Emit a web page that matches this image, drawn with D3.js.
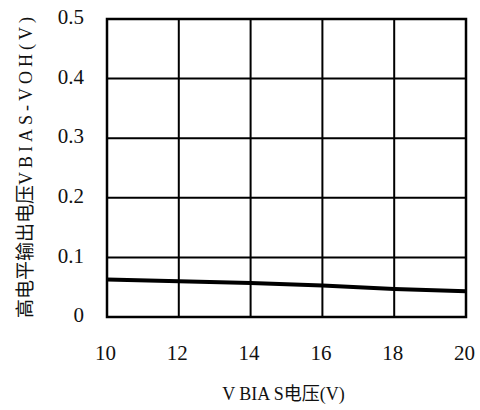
<!DOCTYPE html>
<html>
<head>
<meta charset="utf-8">
<script src="https://cdn.jsdelivr.net/npm/d3@7/dist/d3.min.js"></script>
<style>
  body { margin: 0; background: #fff; }
  svg { display: block; }
  .serif { font-family: "Liberation Serif", "Noto Sans CJK SC", serif; }
</style>
</head>
<body>
<svg id="chart" width="480" height="410"></svg>
<script>
// VBIAS (V) on x, high-level output drop VBIAS-VOH (V) on y
var vbias = [10, 12, 14, 16, 18, 20];
var voh = [0.063, 0.060, 0.057, 0.053, 0.047, 0.043];
var xTicks = [10, 12, 14, 16, 18, 20];
var yTicks = [0, 0.1, 0.2, 0.3, 0.4, 0.5];
var xTitle = "V BIA S电压(V)";
var yTitleCn = "高电平输出电压";
var yTitleEn = "VBIAS-VOH(V)";

var svg = d3.select("#chart"),
  margin = { top: 19, right: 14, bottom: 93, left: 107 },
  width = +svg.attr("width") - margin.left - margin.right,
  height = +svg.attr("height") - margin.top - margin.bottom,
  g = svg.append("g")
    .attr("transform", "translate(" + margin.left + "," + margin.top + ")");

var x = d3.scaleLinear().domain([10, 20]).range([0, width]);
var y = d3.scaleLinear().domain([0, 0.5]).range([height, 0]);

// grid
g.append("g")
  .selectAll("line")
  .data(xTicks)
  .enter()
  .append("line")
  .attr("x1", function(d) { return x(d); })
  .attr("x2", function(d) { return x(d); })
  .attr("y1", 0)
  .attr("y2", height)
  .attr("stroke", "#000")
  .attr("stroke-width", 2);

g.append("g")
  .selectAll("line")
  .data(yTicks)
  .enter()
  .append("line")
  .attr("x1", 0)
  .attr("x2", width)
  .attr("y1", function(d) { return y(d); })
  .attr("y2", function(d) { return y(d); })
  .attr("stroke", "#000")
  .attr("stroke-width", 2);

g.append("rect")
  .attr("width", width)
  .attr("height", height)
  .attr("fill", "none")
  .attr("stroke", "#000")
  .attr("stroke-width", 2.5);

// tick labels
var xAxis = g.append("g")
  .attr("transform", "translate(0," + height + ")")
  .call(d3.axisBottom(x).tickValues(xTicks).tickSize(0).tickPadding(0).tickFormat(d3.format("d")));
xAxis.attr("font-family", null).attr("font-size", null);
xAxis.select(".domain").remove();
xAxis.selectAll("text")
  .attr("class", "serif")
  .attr("x", -2)
  .attr("y", 43)
  .attr("dy", 0)
  .style("font-size", "21px")
  .attr("fill", "#111");

var yAxis = g.append("g")
  .call(d3.axisLeft(y).tickValues(yTicks).tickSize(0).tickPadding(0)
    .tickFormat(function(d) { return d === 0 ? "0" : d3.format(".1f")(d); }));
yAxis.attr("font-family", null).attr("font-size", null);
yAxis.select(".domain").remove();
yAxis.selectAll("text")
  .attr("class", "serif")
  .attr("x", -23)
  .attr("dy", "0.22em")
  .style("font-size", "21px")
  .attr("fill", "#111");

// data line
var line = d3.line()
  .x(function(d, i) { return x(vbias[i]); })
  .y(function(d) { return y(d); });

g.append("path")
  .datum(voh)
  .attr("fill", "none")
  .attr("stroke", "#000")
  .attr("stroke-width", 4)
  .attr("d", line);

// axis titles
svg.append("text")
  .attr("class", "serif")
  .attr("x", margin.left + width / 2 - 3)
  .attr("y", 400)
  .attr("text-anchor", "middle")
  .style("font-size", "18px")
  .attr("fill", "#111")
  .text(xTitle);

var yt = svg.append("text")
  .attr("class", "serif")
  .attr("transform", "translate(32,318) rotate(-90)")
  .style("font-size", "18px")
  .attr("fill", "#111");
yt.append("tspan").style("font-size", "19px").text(yTitleCn);
yt.append("tspan").attr("letter-spacing", 4).text(yTitleEn);
</script>
</body>
</html>
